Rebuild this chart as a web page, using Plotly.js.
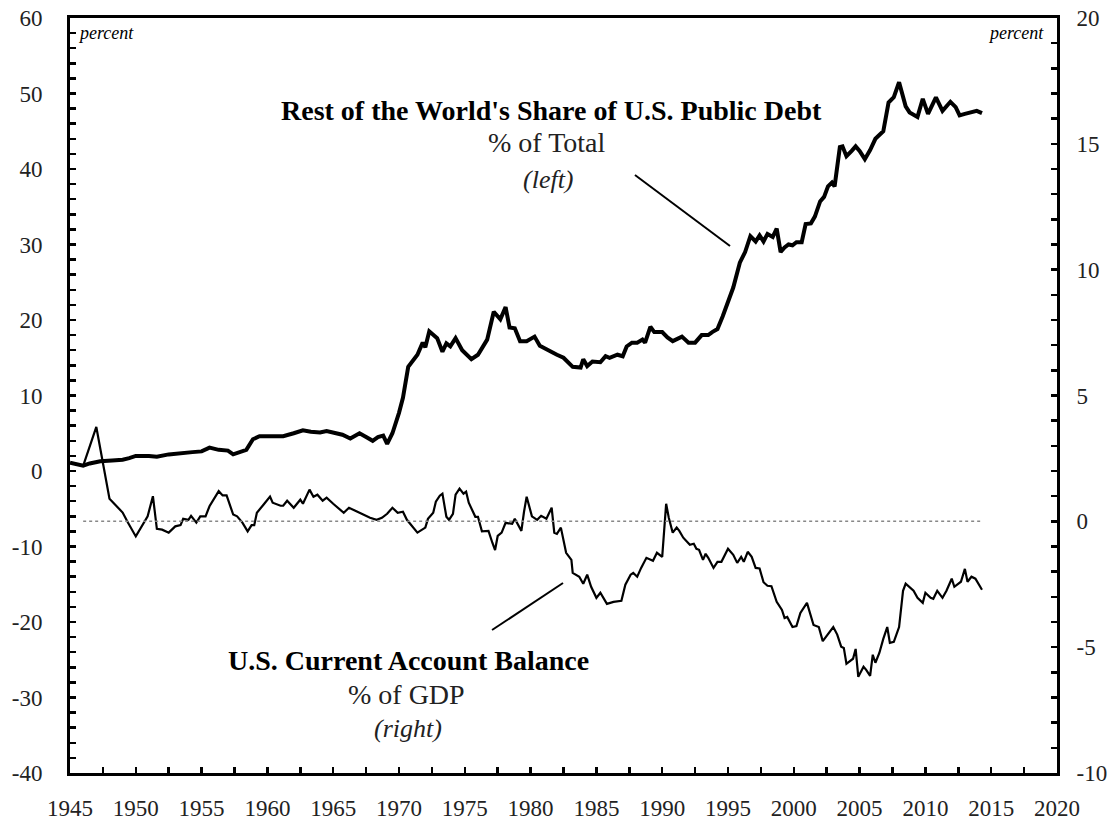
<!DOCTYPE html>
<html>
<head>
<meta charset="utf-8">
<script src="https://cdn.plot.ly/plotly-3.0.1.min.js"></script>
<style>html,body{margin:0;padding:0;background:#fff;}#chart{width:1117px;height:821px;}</style>
</head>
<body>
<div id="chart"></div>
<script>
// Rest of the World's share of U.S. public debt, % of total (left axis)
const debtYears = [1945.0,1946.0,1946.5,1947.3,1948.2,1949.0,1949.5,1950.0,1951.0,1951.6,1952.5,1953.4,1954.3,1955.0,1955.6,1956.3,1957.0,1957.4,1958.0,1958.4,1958.9,1959.4,1960.3,1961.2,1962.0,1962.7,1963.3,1964.0,1964.5,1965.0,1965.7,1966.3,1967.0,1967.5,1968.0,1968.4,1968.8,1969.1,1969.5,1970.0,1970.3,1970.7,1971.4,1971.8,1972.0,1972.3,1972.9,1973.3,1973.6,1973.9,1974.3,1974.8,1975.2,1975.5,1976.0,1976.7,1977.2,1977.7,1978.1,1978.4,1978.8,1979.2,1979.7,1980.3,1980.7,1981.2,1982.0,1982.5,1983.2,1983.8,1984.0,1984.3,1984.7,1985.3,1985.7,1986.0,1986.6,1987.0,1987.3,1987.7,1988.1,1988.5,1988.7,1989.1,1989.4,1990.0,1990.4,1990.8,1991.5,1992.0,1992.5,1993.0,1993.5,1993.8,1994.2,1994.6,1995.0,1995.4,1995.9,1996.3,1996.7,1997.1,1997.4,1997.7,1998.0,1998.4,1998.7,1999.0,1999.3,1999.6,1999.9,2000.2,2000.6,2000.9,2001.3,2001.6,2002.0,2002.3,2002.6,2002.9,2003.1,2003.5,2003.7,2004.0,2004.4,2004.7,2005.0,2005.4,2005.8,2006.2,2006.8,2007.2,2007.6,2008.0,2008.5,2008.8,2009.4,2009.8,2010.2,2010.8,2011.3,2011.9,2012.3,2012.6,2013.0,2013.5,2013.9,2014.3];
const debtShare = [1.1,0.7,1.0,1.3,1.4,1.5,1.7,2.0,2.0,1.9,2.2,2.4,2.5,2.6,3.1,2.8,2.7,2.2,2.6,2.8,4.2,4.6,4.6,4.6,5.0,5.4,5.2,5.1,5.3,5.1,4.8,4.3,5.0,4.5,4.0,4.5,4.7,3.6,5.0,7.7,9.7,13.8,15.4,17.0,16.4,18.5,17.6,15.8,16.9,16.5,17.6,16.0,15.2,14.8,15.4,17.4,21.1,20.1,21.7,19.0,18.9,17.2,17.2,17.8,16.6,16.1,15.4,15.0,13.8,13.7,14.8,13.9,14.5,14.4,15.2,15.0,15.4,15.2,16.5,17.0,17.0,17.4,17.0,19.1,18.4,18.4,17.7,17.2,17.8,17.0,17.0,18.0,18.0,18.4,18.8,20.5,22.3,24.3,27.6,29.0,31.1,30.4,31.2,30.4,31.4,31.0,32.1,29.0,29.6,30.0,29.9,30.3,30.3,32.7,32.8,33.7,35.7,36.3,37.7,38.2,37.7,42.9,43.0,41.7,42.4,43.0,42.4,41.3,42.5,44.0,45.0,48.8,49.5,51.5,48.3,47.5,46.9,49.3,47.3,49.5,47.7,48.9,48.2,47.1,47.3,47.5,47.7,47.4];

// U.S. current account balance, % of GDP (right axis)
const caYears = [1946.0,1947.0,1948.0,1949.0,1949.4,1950.0,1950.9,1951.3,1951.6,1952.0,1952.5,1953.0,1953.4,1953.6,1954.0,1954.2,1954.6,1954.9,1955.3,1955.6,1956.3,1956.6,1956.9,1957.4,1957.7,1958.1,1958.5,1958.8,1959.0,1959.2,1959.7,1960.2,1960.4,1961.0,1961.2,1961.5,1962.0,1962.5,1962.7,1963.2,1963.5,1963.8,1964.2,1964.5,1965.0,1965.8,1966.2,1966.8,1967.3,1967.8,1968.3,1968.7,1969.1,1969.5,1969.9,1970.3,1970.6,1971.4,1972.0,1972.2,1972.6,1972.8,1973.1,1973.3,1973.6,1973.8,1974.1,1974.3,1974.6,1974.9,1975.1,1975.3,1975.8,1976.0,1976.3,1976.8,1977.1,1977.3,1977.5,1977.8,1978.1,1978.6,1978.8,1979.3,1979.5,1979.7,1980.1,1980.5,1980.8,1981.2,1981.6,1981.8,1982.0,1982.3,1982.7,1983.1,1983.2,1983.7,1984.0,1984.3,1984.6,1985.0,1985.3,1985.8,1986.3,1986.9,1987.2,1987.6,1987.8,1988.1,1988.4,1988.8,1989.3,1989.6,1990.0,1990.3,1990.5,1990.8,1991.1,1991.3,1991.6,1991.9,1992.1,1992.4,1992.6,1992.8,1993.1,1993.3,1993.5,1993.9,1994.2,1994.5,1995.0,1995.4,1995.7,1996.0,1996.2,1996.5,1996.8,1997.1,1997.4,1997.7,1998.0,1998.3,1998.7,1999.1,1999.3,1999.5,1999.9,2000.2,2000.5,2001.0,2001.5,2001.9,2002.2,2003.0,2003.3,2003.6,2003.8,2004.0,2004.5,2004.7,2004.9,2005.3,2005.5,2005.8,2006.0,2006.2,2006.5,2006.8,2007.1,2007.3,2007.6,2008.0,2008.3,2008.5,2008.8,2009.1,2009.4,2009.8,2010.0,2010.4,2010.6,2010.9,2011.3,2011.6,2012.0,2012.2,2012.7,2013.0,2013.2,2013.5,2013.8,2014.3];
const caBalance = [2.2,3.75,0.9,0.35,-0.05,-0.6,0.2,1.0,-0.3,-0.33,-0.45,-0.2,-0.15,0.1,0.06,0.22,-0.05,0.2,0.2,0.6,1.2,1.03,1.03,0.27,0.2,-0.05,-0.4,-0.15,-0.15,0.34,0.66,0.98,0.74,0.62,0.62,0.82,0.54,0.86,0.7,1.26,0.98,1.06,0.82,0.94,0.7,0.34,0.54,0.38,0.26,0.14,0.06,0.14,0.3,0.54,0.34,0.38,0.06,-0.45,-0.25,0.1,0.34,0.78,1.02,1.1,0.18,0.06,0.3,1.06,1.3,1.1,1.18,0.74,0.18,0.18,-0.4,-0.38,-0.86,-1.14,-0.58,-0.45,-0.06,-0.1,0.1,-0.38,0.38,0.98,0.2,0.06,0.22,0.1,0.54,-0.45,-0.5,-0.25,-1.25,-1.53,-2.05,-2.2,-2.48,-2.12,-2.6,-3.04,-2.84,-3.28,-3.2,-3.16,-2.52,-2.12,-2.05,-2.2,-1.85,-1.45,-1.57,-1.25,-1.41,0.7,0.14,-0.45,-0.25,-0.38,-0.65,-0.81,-0.93,-0.89,-1.09,-1.13,-1.53,-1.29,-1.45,-1.85,-1.61,-1.61,-1.09,-1.33,-1.65,-1.41,-1.61,-1.21,-1.41,-1.85,-1.87,-2.42,-2.56,-2.58,-3.2,-3.52,-3.84,-3.8,-4.2,-4.16,-3.64,-3.24,-4.12,-4.2,-4.76,-4.2,-4.5,-4.98,-5.03,-5.66,-5.46,-5.07,-6.18,-5.78,-5.9,-6.14,-5.3,-5.62,-5.23,-4.67,-4.2,-4.83,-4.79,-4.2,-2.76,-2.48,-2.64,-2.76,-3.04,-3.24,-2.84,-3.04,-3.08,-2.76,-3.04,-2.76,-2.28,-2.6,-2.4,-1.89,-2.4,-2.2,-2.28,-2.72];

const xTickVals = [1945,1950,1955,1960,1965,1970,1975,1980,1985,1990,1995,2000,2005,2010,2015,2020];
const leftTickVals = [-40,-30,-20,-10,0,10,20,30,40,50,60];
const rightTickVals = [-10,-5,0,5,10,15,20];

const FONT = 'Liberation Serif';

const traces = [
  {x: debtYears, y: debtShare, type: 'scatter', mode: 'lines', yaxis: 'y',
   line: {color: '#000', width: 4}, hoverinfo: 'skip'},
  {x: caYears, y: caBalance, type: 'scatter', mode: 'lines', yaxis: 'y2',
   line: {color: '#000', width: 2.2}, hoverinfo: 'skip'}
];

const axisCommon = {
  showline: true, linecolor: '#000', linewidth: 3,
  ticks: 'inside', ticklen: 6, tickwidth: 2.5, tickcolor: '#000',
  showgrid: false, zeroline: false, fixedrange: true,
  tickfont: {family: FONT, size: 23, color: '#222'}
};

const layout = {
  width: 1117, height: 821,
  margin: {l: 70, r: 60, t: 18, b: 48},
  paper_bgcolor: '#fff', plot_bgcolor: '#fff',
  showlegend: false,
  font: {family: FONT, color: '#000'},
  xaxis: Object.assign({}, axisCommon, {
    range: [1945, 2020], tickvals: xTickVals, ticktext: xTickVals.map(String),
    mirror: true, ticklabelstandoff: 12,
    minor: {dtick: 2.5, tick0: 1945, ticks: 'inside', ticklen: 6, tickwidth: 2.5, tickcolor: '#000', showgrid: false}
  }),
  yaxis: Object.assign({}, axisCommon, {
    range: [-40, 60], tickvals: leftTickVals, ticktext: leftTickVals.map(String),
    ticklabelstandoff: 20,
    minor: {dtick: 2, tick0: 0, ticks: 'inside', ticklen: 6, tickwidth: 2.5, tickcolor: '#000', showgrid: false}
  }),
  yaxis2: Object.assign({}, axisCommon, {
    range: [-10, 20], tickvals: rightTickVals, ticktext: rightTickVals.map(String),
    overlaying: 'y', side: 'right', ticklabelstandoff: 12,
    minor: {dtick: 1, tick0: 0, ticks: 'inside', ticklen: 6, tickwidth: 2.5, tickcolor: '#000', showgrid: false}
  }),
  shapes: [
    {type: 'line', xref: 'x', yref: 'y2', x0: 1946, x1: 2014.2, y0: 0, y1: 0,
     line: {color: '#888', width: 1.5, dash: 'dot'}},
    {type: 'line', xref: 'paper', yref: 'paper', x0: 0.5724, y0: 0.7921, x1: 0.6687, y1: 0.698,
     line: {color: '#000', width: 2}},
    {type: 'line', xref: 'paper', yref: 'paper', x0: 0.4276, y0: 0.1894, x1: 0.4995, y1: 0.2517,
     line: {color: '#000', width: 2}}
  ],
  annotations: [
    {xref: 'paper', yref: 'paper', x: (551-70)/987, y: 1-(110-18)/755, xanchor: 'center', yanchor: 'middle', showarrow: false,
     text: "<b>Rest of the World's Share of U.S. Public Debt</b>", font: {family: FONT, size: 28, color: '#000'}},
    {xref: 'paper', yref: 'paper', x: (546-70)/987, y: 1-(142-18)/755, xanchor: 'center', yanchor: 'middle', showarrow: false,
     text: '% of Total', font: {family: FONT, size: 28, color: '#222'}},
    {xref: 'paper', yref: 'paper', x: (548-70)/987, y: 1-(179-18)/755, xanchor: 'center', yanchor: 'middle', showarrow: false,
     text: '<i>(left)</i>', font: {family: FONT, size: 26, color: '#222'}},
    {xref: 'paper', yref: 'paper', x: (408-70)/987, y: 1-(660-18)/755, xanchor: 'center', yanchor: 'middle', showarrow: false,
     text: '<b>U.S. Current Account Balance</b>', font: {family: FONT, size: 28, color: '#000'}},
    {xref: 'paper', yref: 'paper', x: (406-70)/987, y: 1-(694-18)/755, xanchor: 'center', yanchor: 'middle', showarrow: false,
     text: '% of GDP', font: {family: FONT, size: 28, color: '#222'}},
    {xref: 'paper', yref: 'paper', x: (408-70)/987, y: 1-(728-18)/755, xanchor: 'center', yanchor: 'middle', showarrow: false,
     text: '<i>(right)</i>', font: {family: FONT, size: 26, color: '#222'}},
    {xref: 'paper', yref: 'paper', x: (76-70)/987, y: 1-(33-18)/755, xanchor: 'left', yanchor: 'middle', showarrow: false,
     text: '<i>percent</i>', font: {family: FONT, size: 18, color: '#000'}},
    {xref: 'paper', yref: 'paper', x: (1046-70)/987, y: 1-(33-18)/755, xanchor: 'right', yanchor: 'middle', showarrow: false,
     text: '<i>percent</i>', font: {family: FONT, size: 18, color: '#000'}}
  ]
};

Plotly.newPlot('chart', traces, layout, {staticPlot: true, displayModeBar: false});
</script>
</body>
</html>
